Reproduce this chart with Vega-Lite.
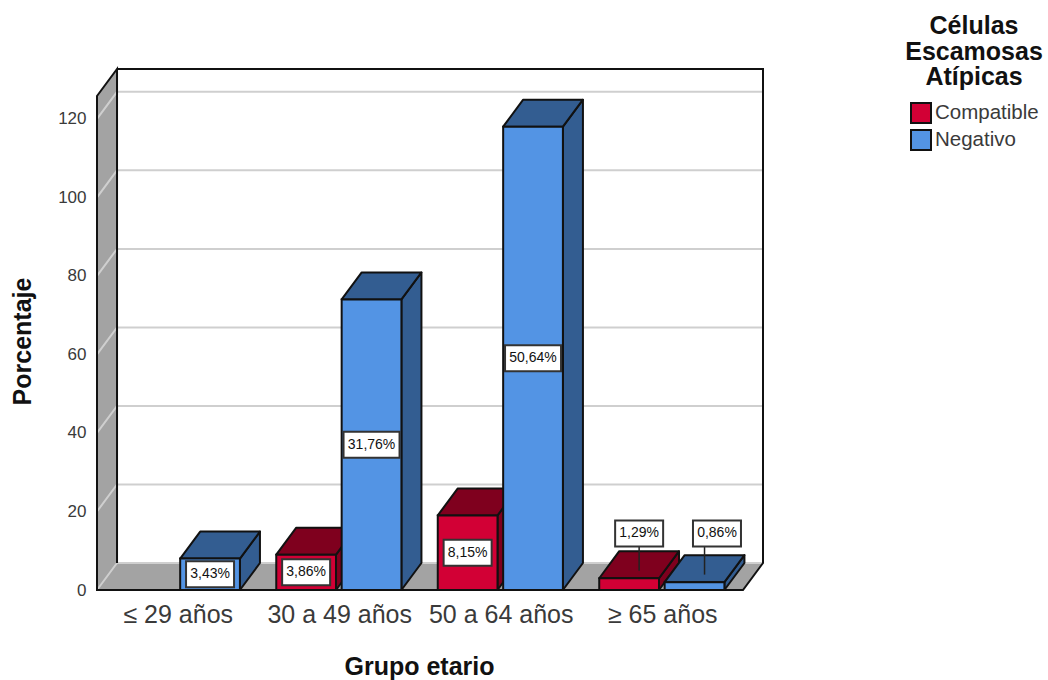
{
  "$schema": "https://vega.github.io/schema/vega-lite/v6.json",
  "autosize": {"type": "none"},
  "padding": {"left": 97, "top": 69, "right": 285, "bottom": 90},
  "width": 666,
  "height": 521,
  "background": "white",
  "config": {"view": {"stroke": null}, "font": "Liberation Sans"},
  "params": [
    {"name": "d", "value": 0.124},
    {"name": "dy", "value": 6.88},
    {"name": "techo", "value": 132.7}
  ],
  "data": {"values": [
    {"grupo": "≤ 29 años", "celulas": "Negativo", "n": 8, "porcentaje": "3,43%"},
    {"grupo": "30 a 49 años", "celulas": "Compatible", "n": 9, "porcentaje": "3,86%"},
    {"grupo": "30 a 49 años", "celulas": "Negativo", "n": 74, "porcentaje": "31,76%"},
    {"grupo": "50 a 64 años", "celulas": "Compatible", "n": 19, "porcentaje": "8,15%"},
    {"grupo": "50 a 64 años", "celulas": "Negativo", "n": 118, "porcentaje": "50,64%"},
    {"grupo": "≥ 65 años", "celulas": "Compatible", "n": 3, "porcentaje": "1,29%"},
    {"grupo": "≥ 65 años", "celulas": "Negativo", "n": 2, "porcentaje": "0,86%"}
  ]},
  "transform": [
    {"calculate": "indexof(['≤ 29 años','30 a 49 años','50 a 64 años','≥ 65 años'], datum.grupo)", "as": "g"},
    {"calculate": "datum.g + 0.5 + (datum.celulas === 'Compatible' ? -0.39 : 0.015)", "as": "izq"},
    {"calculate": "datum.izq + 0.37", "as": "der"}
  ],
  "encoding": {
    "x": {
      "field": "px", "type": "quantitative",
      "scale": {"domain": [0, 4.124], "nice": false, "zero": false},
      "axis": {
        "title": "Grupo etario", "titleFont": "Liberation Sans", "titleFontSize": 25, "titleFontWeight": "bold", "titleColor": "#111", "titlePadding": 27, "titleX": 322,
        "values": [0.5, 1.5, 2.5, 3.5],
        "labelExpr": "['≤ 29 años','30 a 49 años','50 a 64 años','≥ 65 años'][floor(datum.value)]",
        "labelFontSize": 25, "labelColor": "#3a3a3a", "labelPadding": 12, "labelFlush": false, "labelOverlap": false,
        "domain": false, "ticks": false, "grid": false
      }
    },
    "y": {
      "field": "py", "type": "quantitative",
      "scale": {"domain": [0, 132.7], "nice": false},
      "axis": {
        "title": "Porcentaje", "titleFont": "Liberation Sans", "titleFontSize": 25, "titleFontWeight": "bold", "titleColor": "#111", "titleX": -62, "titleY": 272,
        "values": [0, 20, 40, 60, 80, 100, 120],
        "labelFontSize": 17, "labelColor": "#3a3a3a", "labelPadding": 11,
        "domain": false, "ticks": false, "grid": false
      }
    }
  },
  "layer": [
    {
      "data": {"values": [{"k": 0}, {"k": 1}, {"k": 2}, {"k": 3}]},
      "transform": [
        {"calculate": "[0, d, 4, 4 + d][datum.k]", "as": "px"},
        {"calculate": "[0, dy, dy, dy][datum.k]", "as": "py"},
        {"calculate": "[0, 0, 0, dy][datum.k]", "as": "py2"}
      ],
      "mark": {"type": "area", "fill": "#a3a3a3", "stroke": null},
      "encoding": {"y2": {"field": "py2"}}
    },
    {
      "data": {"values": [{"k": 0}, {"k": 1}]},
      "transform": [
        {"calculate": "[0, d][datum.k]", "as": "px"},
        {"calculate": "[techo - dy, techo][datum.k]", "as": "py"},
        {"calculate": "[0, dy][datum.k]", "as": "py2"}
      ],
      "mark": {"type": "area", "fill": "#a3a3a3", "stroke": null},
      "encoding": {"y2": {"field": "py2"}}
    },
    {
      "data": {"values": [{"valor": 0}, {"valor": 20}, {"valor": 40}, {"valor": 60}, {"valor": 80}, {"valor": 100}, {"valor": 120}]},
      "transform": [
        {"calculate": "[0, 1, 2]", "as": "k"},
        {"flatten": ["k"]},
        {"calculate": "[0, d, 4 + d][datum.k]", "as": "px"},
        {"calculate": "[datum.valor, datum.valor + dy, datum.valor + dy][datum.k]", "as": "py"}
      ],
      "mark": {"type": "line", "stroke": "#cfcfcf", "strokeWidth": 2},
      "encoding": {"detail": {"field": "valor"}, "order": {"field": "k"}}
    },
    {
      "data": {"values": [{"k": 0}, {"k": 1}, {"k": 2}, {"k": 3}, {"k": 4}, {"k": 5}, {"k": 6}, {"k": 7}]},
      "transform": [
        {"calculate": "[d, d, 0, 0, 4, 4 + d, 4 + d, d][datum.k]", "as": "px"},
        {"calculate": "[dy, techo, techo - dy, 0, 0, dy, techo, techo][datum.k]", "as": "py"}
      ],
      "mark": {"type": "line", "stroke": "#111", "strokeWidth": 2},
      "encoding": {"order": {"field": "k"}}
    },
    {
      "transform": [
        {"filter": "datum.celulas === 'Compatible'"},
        {"calculate": "[0, 1]", "as": "k"},
        {"flatten": ["k"]},
        {"calculate": "datum.der + datum.k * d", "as": "px"},
        {"calculate": "datum.n + datum.k * dy", "as": "py"},
        {"calculate": "datum.k * dy", "as": "py2"}
      ],
      "mark": {"type": "area", "fill": "#7f001e", "stroke": "#111", "strokeWidth": 2, "strokeJoin": "round"},
      "encoding": {"y2": {"field": "py2"}, "detail": {"field": "grupo"}}
    },
    {
      "transform": [
        {"filter": "datum.celulas === 'Compatible'"},
        {"calculate": "[0, 1, 2, 3]", "as": "k"},
        {"flatten": ["k"]},
        {"calculate": "[datum.izq, datum.izq + d, datum.der, datum.der + d][datum.k]", "as": "px"},
        {"calculate": "[datum.n, datum.n + dy, datum.n + dy, datum.n + dy][datum.k]", "as": "py"},
        {"calculate": "[datum.n, datum.n, datum.n, datum.n + dy][datum.k]", "as": "py2"}
      ],
      "mark": {"type": "area", "fill": "#7f001e", "stroke": "#111", "strokeWidth": 2, "strokeJoin": "round"},
      "encoding": {"y2": {"field": "py2"}, "detail": {"field": "grupo"}}
    },
    {
      "transform": [
        {"filter": "datum.celulas === 'Compatible'"},
        {"calculate": "datum.izq", "as": "px"},
        {"calculate": "datum.der", "as": "px2"},
        {"calculate": "datum.n", "as": "py"},
        {"calculate": "0", "as": "py2"}
      ],
      "mark": {"type": "rect", "stroke": "#111", "strokeWidth": 2},
      "encoding": {
        "x2": {"field": "px2"},
        "y2": {"field": "py2"},
        "fill": {
          "field": "celulas", "type": "nominal",
          "scale": {"domain": ["Compatible", "Negativo"], "range": ["#d20035", "#5394e4"]},
          "legend": {
            "orient": "none", "legendX": 808, "legendY": -55,
            "title": ["Células", "Escamosas", "Atípicas"],
            "titleFont": "Liberation Sans", "titleFontSize": 25, "titleFontWeight": "bold", "titleColor": "#111", "titleLineHeight": 25.5,
            "titleAnchor": "middle", "titleAlign": "center", "titlePadding": 12, "titleLimit": 300,
            "labelFontSize": 20.5, "labelColor": "#3a3a3a", "labelOffset": 3,
            "symbolType": "square", "symbolSize": 400, "symbolStrokeColor": "#222", "symbolStrokeWidth": 2, "rowPadding": -1
          }
        }
      }
    },
    {
      "transform": [
        {"filter": "datum.celulas === 'Negativo'"},
        {"calculate": "[0, 1]", "as": "k"},
        {"flatten": ["k"]},
        {"calculate": "datum.der + datum.k * d", "as": "px"},
        {"calculate": "datum.n + datum.k * dy", "as": "py"},
        {"calculate": "datum.k * dy", "as": "py2"}
      ],
      "mark": {"type": "area", "fill": "#335d91", "stroke": "#111", "strokeWidth": 2, "strokeJoin": "round"},
      "encoding": {"y2": {"field": "py2"}, "detail": {"field": "grupo"}}
    },
    {
      "transform": [
        {"filter": "datum.celulas === 'Negativo'"},
        {"calculate": "[0, 1, 2, 3]", "as": "k"},
        {"flatten": ["k"]},
        {"calculate": "[datum.izq, datum.izq + d, datum.der, datum.der + d][datum.k]", "as": "px"},
        {"calculate": "[datum.n, datum.n + dy, datum.n + dy, datum.n + dy][datum.k]", "as": "py"},
        {"calculate": "[datum.n, datum.n, datum.n, datum.n + dy][datum.k]", "as": "py2"}
      ],
      "mark": {"type": "area", "fill": "#335d91", "stroke": "#111", "strokeWidth": 2, "strokeJoin": "round"},
      "encoding": {"y2": {"field": "py2"}, "detail": {"field": "grupo"}}
    },
    {
      "transform": [
        {"filter": "datum.celulas === 'Negativo'"},
        {"calculate": "datum.izq", "as": "px"},
        {"calculate": "datum.der", "as": "px2"},
        {"calculate": "datum.n", "as": "py"},
        {"calculate": "0", "as": "py2"}
      ],
      "mark": {"type": "rect", "stroke": "#111", "strokeWidth": 2},
      "encoding": {
        "x2": {"field": "px2"},
        "y2": {"field": "py2"},
        "fill": {"field": "celulas", "type": "nominal"}
      }
    },
    {
      "transform": [
        {"filter": "datum.n < 5"},
        {"calculate": "(datum.izq + datum.der) / 2 + d / 2", "as": "px"},
        {"calculate": "datum.n + dy * 0.28", "as": "py"},
        {"calculate": "14.4", "as": "py2"}
      ],
      "mark": {"type": "rule", "stroke": "#222", "strokeWidth": 1.5},
      "encoding": {"y2": {"field": "py2"}}
    },
    {
      "transform": [
        {"calculate": "(datum.izq + datum.der) / 2 + (datum.n < 5 ? d / 2 + (datum.celulas === 'Negativo' ? 0.077 : 0) : 0)", "as": "px"},
        {"calculate": "datum.n < 5 ? 14.4 : datum.n / 2", "as": "py"},
        {"calculate": "length(datum.porcentaje) > 5 ? 'M-28,-13H28V13H-28Z' : 'M-24,-13H24V13H-24Z'", "as": "caja"}
      ],
      "mark": {"type": "point", "filled": true, "fill": "white", "stroke": "#333", "strokeWidth": 2, "opacity": 1, "size": 4},
      "encoding": {"shape": {"field": "caja", "type": "nominal", "scale": null}}
    },
    {
      "transform": [
        {"calculate": "(datum.izq + datum.der) / 2 + (datum.n < 5 ? d / 2 + (datum.celulas === 'Negativo' ? 0.077 : 0) : 0)", "as": "px"},
        {"calculate": "datum.n < 5 ? 14.4 : datum.n / 2", "as": "py"}
      ],
      "mark": {"type": "text", "fontSize": 14, "fill": "#111", "align": "center", "baseline": "middle"},
      "encoding": {"text": {"field": "porcentaje"}}
    }
  ]
}
